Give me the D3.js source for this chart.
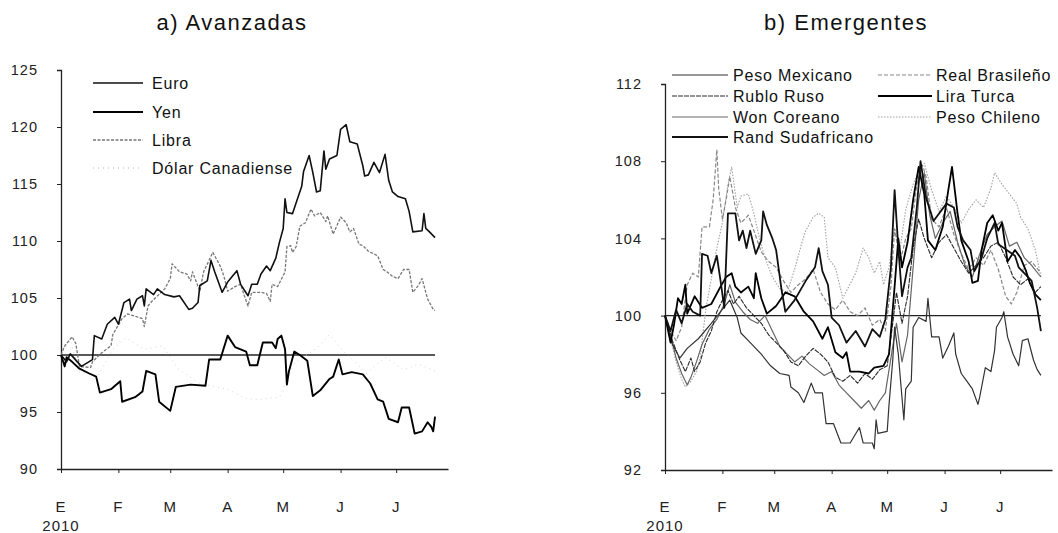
<!DOCTYPE html>
<html><head><meta charset="utf-8">
<script src="https://cdn.jsdelivr.net/npm/d3@7"></script>
<style>
html,body{margin:0;padding:0;background:#fff;}
svg{display:block;font-family:"Liberation Sans",Arial,sans-serif;}
</style></head>
<body><svg id="c" width="1058" height="533"></svg>
<script>
// ---------- DATA (day = days since 1 Jan 2010, value = index) ----------
const monthLabels = ["E","F","M","A","M","J","J"];
const yearLabel = "2010";
const titleA = "a) Avanzadas";
const titleB = "b) Emergentes";
const ticksA = [90,95,100,105,110,115,120,125];
const ticksB = [92,96,100,104,108,112];

const euro = [[0,100],[3,99.4],[5,100.1],[11,99.0],[17,99.6],[18,101.7],[22,101.4],[25,102.7],[29,103.3],[31,102.7],[34,104.6],[37,104.9],[38,103.9],[41,104.9],[44,105.2],[45,104.3],[46,105.8],[50,105.3],[52,105.8],[56,105.3],[61,105.1],[64,105.2],[69,104.0],[71,104.1],[74,104.6],[75,106.1],[79,106.5],[81,108.3],[83,107.3],[87,105.5],[90,106.4],[95,107.4],[97,106.2],[101,105.2],[103,106.2],[106,106.2],[108,107.1],[111,107.8],[113,107.4],[116,108.5],[118,109.9],[120,111.1],[121,113.7],[122,112.5],[125,112.4],[130,114.8],[131,116.1],[134,117.5],[136,116.0],[138,114.3],[140,114.4],[142,117.9],[143,116.3],[145,117.2],[149,117.5],[151,119.8],[154,120.2],[156,118.7],[160,118.5],[163,116.6],[164,115.7],[166,115.8],[169,116.9],[172,116.0],[175,117.6],[177,115.3],[179,114.3],[182,113.9],[186,113.7],[188,112.6],[190,110.8],[195,110.9],[196,112.4],[197,111.1],[199,110.8],[202,110.3]];
const yen = [[0,100],[2,99.0],[3,99.8],[6,99.4],[10,98.8],[15,98.4],[19,98.1],[21,96.7],[27,97.0],[32,97.7],[33,95.9],[40,96.3],[44,96.8],[46,98.6],[51,98.3],[53,95.9],[59,95.1],[62,97.2],[70,97.4],[78,97.3],[80,99.6],[86,99.6],[90,101.7],[94,100.7],[100,100.3],[102,99.1],[106,99.1],[109,101.1],[114,101.1],[116,100.6],[117,101.4],[119,101.7],[121,100.5],[122,97.4],[123,98.5],[126,100.3],[129,100.0],[133,99.5],[136,96.4],[140,96.9],[145,97.9],[147,98.1],[150,99.6],[152,98.3],[157,98.5],[163,98.3],[167,97.5],[171,96.1],[174,95.9],[177,94.4],[182,94.1],[184,95.4],[188,95.4],[191,93.1],[195,93.3],[198,94.1],[200,93.7],[201,93.3],[202,94.6]];
const libra = [[0,100],[2,100.8],[6,101.6],[8,101.0],[10,99.0],[16,98.9],[17,99.4],[22,100.2],[27,100.8],[28,101.8],[33,103.2],[36,103.6],[44,103.2],[45,102.5],[47,104.3],[49,104.7],[56,105.8],[59,106.7],[60,108.0],[64,107.3],[68,107.1],[70,106.5],[71,107.3],[75,105.6],[77,107.3],[82,109.0],[83,108.7],[86,107.8],[88,106.9],[90,105.6],[94,106.0],[97,106.2],[99,105.2],[101,104.3],[103,105.5],[108,105.5],[111,105.4],[113,104.7],[114,106.2],[117,106.0],[121,107.3],[122,109.5],[124,109.6],[125,109.0],[127,109.5],[129,111.3],[132,111.6],[135,112.8],[137,112.2],[140,112.5],[143,111.7],[144,112.2],[147,110.6],[151,112.1],[154,111.6],[156,110.8],[158,111.1],[161,109.7],[163,109.6],[166,109.1],[171,108.7],[174,107.5],[176,107.3],[179,106.9],[182,106.7],[185,107.5],[188,107.5],[190,105.5],[193,106.1],[195,106.7],[197,105.5],[198,104.9],[201,104.0],[202,103.9]];
const dolarCan = [[0,100],[5,101.3],[10,98.5],[20,98.2],[28,100.5],[35,101.5],[45,100.5],[55,100.8],[63,98.8],[75,97.5],[90,97.0],[100,96.2],[106,96.1],[118,96.3],[126,99.3],[139,100.7],[145,101.8],[152,100.4],[165,98.4],[175,99.8],[185,98.7],[193,99.2],[202,98.6]];

const pesoMex = [[0,100],[2,99.2],[4,98.5],[8,97.8],[12,98.3],[18,98.8],[25,99.6],[30,100.2],[35,100.8],[39,99.9],[41,99.1],[45,98.7],[52,98.0],[57,97.4],[62,97.0],[67,96.9],[68,96.3],[72,96.0],[75,95.5],[79,96.5],[81,96.0],[85,96.0],[87,94.4],[91,94.4],[95,93.4],[100,93.4],[105,94.2],[107,93.4],[112,93.4],[113,93.1],[114,94.6],[115,93.9],[120,94.0],[121,95.4],[123,97.7],[124,99.4],[126,98.0],[129,94.6],[130,96.2],[133,96.6],[134,99.4],[137,99.9],[141,99.7],[142,100.9],[144,98.9],[148,98.9],[150,97.8],[153,98.4],[156,99.1],[157,98.0],[160,97.0],[163,96.6],[166,96.2],[169,95.4],[170,95.8],[173,97.3],[176,97.1],[178,98.2],[179,99.4],[182,99.9],[183,100.2],[185,98.9],[188,98.0],[191,97.4],[193,98.7],[196,98.8],[199,97.7],[201,97.2],[203,96.9]];
const realBra = [[0,100],[3,99.2],[6,98.7],[9,99.4],[12,101.6],[15,102.2],[18,102.0],[20,104.6],[24,104.6],[26,106.0],[28,108.6],[29,106.6],[31,105.0],[33,106.0],[35,107.2],[38,105.6],[41,104.8],[45,105.2],[48,104.4],[52,103.3],[56,102.8],[60,102.5],[64,101.8],[68,101.2],[72,101.6],[76,101.9],[80,102.4],[84,101.2],[88,100.6],[92,100.3],[96,100.8],[100,100.2],[104,100.0],[108,100.4],[112,99.5],[116,99.8],[119,99.2],[122,101.5],[124,104.5],[127,102.8],[130,104.0],[133,104.5],[136,106.8],[139,107.8],[141,107.2],[144,105.0],[148,104.6],[152,105.6],[156,104.2],[160,103.2],[164,102.4],[168,103.0],[172,102.6],[176,103.4],[180,102.4],[184,101.0],[187,100.6],[190,101.2],[194,102.6],[198,102.8],[203,102.2]];
const rubloRus = [[0,100],[4,98.7],[8,97.7],[11,97.1],[14,97.8],[16,97.1],[19,97.6],[22,98.6],[25,99.2],[28,100.2],[31,100.8],[34,101.3],[37,100.6],[40,101.0],[44,100.4],[48,100.0],[52,99.6],[56,99.0],[60,98.6],[64,98.2],[68,97.6],[72,97.4],[76,97.9],[80,98.3],[84,98.0],[88,97.6],[92,96.8],[96,96.6],[100,96.9],[104,96.5],[108,97.0],[112,96.7],[116,97.2],[120,97.4],[123,99.6],[125,101.2],[128,99.6],[131,101.0],[134,103.5],[137,105.0],[140,104.0],[144,103.0],[148,103.8],[152,104.2],[156,103.5],[160,102.8],[164,102.2],[168,102.6],[172,103.0],[176,103.6],[180,103.8],[184,103.0],[188,102.0],[192,101.6],[196,101.9],[200,101.2],[203,101.5]];
const liraTur = [[0,100],[3,98.6],[5,99.6],[7,100.9],[9,100.6],[11,101.6],[12,100.1],[16,101.0],[20,100.4],[25,100.6],[30,101.5],[33,102.0],[36,102.2],[38,101.5],[41,101.2],[45,101.5],[48,100.9],[49,102.2],[52,100.9],[55,100.1],[60,100.5],[65,101.2],[70,101.0],[75,100.2],[80,99.7],[85,98.8],[88,99.4],[92,98.1],[96,97.8],[98,98.1],[100,97.1],[105,97.1],[110,97.0],[113,97.3],[118,97.4],[121,98.0],[124,101.5],[126,104.0],[128,102.5],[131,103.8],[134,106.0],[137,107.7],[140,106.3],[142,103.9],[146,103.4],[150,104.6],[153,106.5],[155,107.7],[158,105.3],[160,103.9],[164,102.8],[166,101.7],[169,101.8],[171,103.4],[174,104.8],[177,105.2],[180,104.4],[182,104.8],[185,102.8],[189,103.4],[192,103.0],[195,102.3],[197,101.7],[200,101.1],[203,100.8]];
const wonCor = [[0,100],[3,99.0],[6,97.8],[9,97.0],[12,96.4],[14,96.8],[17,97.6],[20,98.5],[24,99.3],[28,99.8],[32,100.6],[35,101.6],[38,100.7],[42,100.2],[46,99.8],[50,99.6],[54,100.0],[58,99.2],[62,98.4],[66,98.0],[70,97.6],[74,97.9],[78,97.5],[82,97.2],[86,96.9],[90,97.1],[94,96.4],[98,96.0],[102,95.6],[106,95.2],[110,95.6],[113,95.1],[116,95.6],[119,96.0],[122,97.8],[125,99.6],[128,97.6],[131,99.0],[134,102.5],[137,106.0],[140,107.4],[143,105.2],[146,104.0],[150,104.8],[154,105.4],[158,103.8],[162,102.6],[166,102.0],[170,103.2],[174,104.2],[178,104.6],[182,104.9],[186,103.6],[190,103.8],[194,103.0],[198,102.6],[203,102.0]];
const pesoChi = [[0,100],[3,98.8],[6,97.6],[9,96.7],[11,96.3],[14,96.6],[17,97.1],[19,97.8],[22,100.3],[25,101.9],[28,103.5],[31,104.8],[34,106.8],[36,107.7],[39,105.6],[41,106.2],[45,106.3],[48,105.3],[51,104.0],[54,103.0],[58,102.0],[62,101.4],[66,101.2],[70,102.4],[74,103.8],[76,104.4],[80,105.1],[83,105.3],[86,105.1],[88,103.0],[92,102.5],[96,100.9],[103,102.2],[107,103.5],[110,103.0],[113,102.2],[116,102.8],[118,101.6],[121,102.5],[124,104.5],[127,103.5],[130,105.5],[134,106.8],[137,107.5],[140,107.9],[144,106.5],[148,105.4],[152,106.2],[156,105.6],[160,104.8],[164,105.5],[168,106.0],[172,105.6],[176,106.6],[178,107.4],[182,106.8],[186,106.3],[190,105.8],[192,105.1],[196,104.5],[200,103.4],[203,102.0]];
const randSud = [[0,100],[3,99.2],[6,100.3],[9,99.6],[12,100.6],[15,100.2],[19,100.0],[20,103.2],[23,103.1],[25,102.2],[28,103.1],[30,101.8],[32,100.4],[34,105.3],[38,105.3],[40,103.9],[42,104.4],[44,103.5],[46,104.4],[49,103.2],[52,103.9],[53,105.4],[55,104.7],[58,104.0],[60,103.4],[63,101.3],[65,100.2],[70,100.8],[76,101.8],[81,102.5],[83,103.5],[85,102.3],[88,101.6],[90,99.9],[94,99.5],[98,98.6],[103,99.2],[108,98.4],[112,99.3],[116,98.9],[119,99.8],[122,102.5],[124,106.5],[126,103.5],[128,101.0],[131,102.5],[133,103.0],[136,105.6],[138,108.0],[141,106.1],[145,104.9],[152,105.8],[156,105.6],[158,104.6],[161,103.9],[165,103.4],[167,102.3],[171,103.0],[174,104.0],[178,104.8],[180,103.7],[183,103.5],[189,103.1],[191,102.5],[194,102.2],[198,101.8],[201,100.4],[203,99.2]];

const seriesA = [
  {name:"Euro", data:euro, color:"#111", width:1.6, dash:null},
  {name:"Yen", data:yen, color:"#000", width:1.9, dash:null},
  {name:"Libra", data:libra, color:"#777", width:1.3, dash:"3,1.5"},
  {name:"Dólar Canadiense", data:dolarCan, color:"#d4d4d4", width:1, dash:"1,4"}
];
const seriesB = [
  {name:"Peso Mexicano", data:pesoMex, color:"#333", width:1.2, dash:null},
  {name:"Real Brasileño", data:realBra, color:"#888", width:1.2, dash:"4,2"},
  {name:"Rublo Ruso", data:rubloRus, color:"#2a2a2a", width:1.1, dash:"5,1"},
  {name:"Lira Turca", data:liraTur, color:"#000", width:1.8, dash:null},
  {name:"Won Coreano", data:wonCor, color:"#666", width:1.2, dash:null},
  {name:"Peso Chileno", data:pesoChi, color:"#a0a0a0", width:1.1, dash:"1.5,1.5"},
  {name:"Rand Sudafricano", data:randSud, color:"#111", width:1.8, dash:null}
];

// ---------- DRAW ----------
const svg = d3.select("#c");
const base = new Date(2010,0,1);
const toDate = d => d3.timeDay.offset(base, d);
const xDomain = [base, new Date(2010,6,29)];
const monthTicks = d3.timeMonth.range(new Date(2010,0,1), new Date(2010,6,2));

function panel(opt){
  const x = d3.scaleTime().domain(xDomain).range([opt.x0, opt.x1]);
  const y = d3.scaleLinear().domain(opt.yDomain).range([opt.yBottom, opt.yTop]);
  const g = svg.append("g");

  g.append("text").attr("x", opt.titleX).attr("y", 30).attr("text-anchor","middle")
    .style("font-size","22px").style("letter-spacing","1.5px").attr("fill","#111").text(opt.title);

  const ya = d3.axisLeft(y).tickValues(opt.ticks).tickSize(4).tickPadding(19).tickFormat(d3.format("d"));
  const yg = g.append("g").attr("transform",`translate(${opt.x0},0)`).call(ya);
  yg.select(".domain").attr("stroke","#222").attr("stroke-width",1.3);
  yg.selectAll(".tick line").attr("stroke","#222");
  yg.selectAll(".tick text").style("font-size","14.5px").style("letter-spacing","1px")
    .style("font-family","'Liberation Sans',Arial,sans-serif").attr("fill","#222");

  const xa = d3.axisBottom(x).tickValues(monthTicks).tickSize(4).tickSizeOuter(0).tickFormat(()=>"");
  const xg = g.append("g").attr("transform",`translate(0,${opt.yBottom})`).call(xa);
  xg.select(".domain").attr("stroke","#222").attr("stroke-width",1.3);
  xg.selectAll(".tick line").attr("stroke","#222");
  g.selectAll(".mlab").data(monthTicks).join("text")
    .attr("x", d=>x(d)).attr("y", 512).attr("text-anchor","middle")
    .style("font-size","15px").style("letter-spacing","1px").attr("fill","#222")
    .text((d,i)=>monthLabels[i]);
  g.append("text").attr("x", x(base)).attr("y", 531).attr("text-anchor","middle")
    .style("font-size","15px").style("letter-spacing","1px").attr("fill","#222").text(yearLabel);

  const lastDay = d3.max(opt.series, s=>d3.max(s.data, d=>d[0]));
  g.append("line").attr("x1", x(base)).attr("x2", x(toDate(lastDay)))
    .attr("y1", y(100)).attr("y2", y(100)).attr("stroke","#222").attr("stroke-width",1.4);

  const line = d3.line().x(d=>x(toDate(d[0]))).y(d=>y(d[1]));
  const order = opt.drawOrder || opt.series.map((s,i)=>i);
  order.forEach(i=>{
    const s = opt.series[i];
    g.append("path").datum(s.data).attr("d", line).attr("fill","none")
      .attr("stroke", s.color).attr("stroke-width", s.width)
      .attr("stroke-dasharray", s.dash).attr("stroke-linejoin","round");
  });

  opt.legend.forEach(L=>{
    const s = opt.series[L.i];
    g.append("line").attr("x1",L.x).attr("x2",L.x+L.len).attr("y1",L.y).attr("y2",L.y)
      .attr("stroke", s.color === "#d4d4d4" ? "#b0b0b0" : s.color).attr("stroke-width", s.width)
      .attr("stroke-dasharray", s.dash);
    g.append("text").attr("x", L.x+L.len+L.gap).attr("y", L.y+5.5)
      .style("font-size","16px").style("letter-spacing","0.8px").attr("fill","#111").text(s.name);
  });
}

panel({
  x0:61, x1:448, yTop:70, yBottom:469, yDomain:[90,125], ticks:ticksA,
  title:titleA, titleX:232, series:seriesA, drawOrder:[3,2,1,0],
  legend:[
    {i:0,x:93,y:83,len:50,gap:9},
    {i:1,x:93,y:112,len:50,gap:9},
    {i:2,x:93,y:140,len:50,gap:9},
    {i:3,x:93,y:168,len:50,gap:9}
  ]
});
panel({
  x0:665, x1:1052, yTop:84, yBottom:470, yDomain:[92,112], ticks:ticksB,
  title:titleB, titleX:846, series:seriesB, drawOrder:[5,1,4,2,0,3,6],
  legend:[
    {i:0,x:672,y:75,len:56,gap:5},
    {i:2,x:672,y:96,len:56,gap:5},
    {i:4,x:672,y:117,len:56,gap:5},
    {i:6,x:672,y:137,len:56,gap:5},
    {i:1,x:878,y:75,len:54,gap:4},
    {i:3,x:878,y:96,len:54,gap:4},
    {i:5,x:878,y:117,len:54,gap:4}
  ]
});
</script></body></html>
